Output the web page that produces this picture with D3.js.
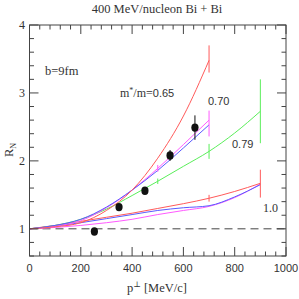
<!DOCTYPE html>
<html lang="en">
<head>
<meta charset="utf-8">
<title>400 MeV/nucleon Bi + Bi</title>
<script src="https://cdn.jsdelivr.net/npm/d3@7"></script>
<style>
	body { margin: 0; background: #fff; }
	.serif { font-family: "Liberation Serif", "DejaVu Serif", serif; }
	.sans { font-family: "Liberation Sans", Arial, sans-serif; }
	.curve { fill: none; stroke-width: 1; }
</style>
</head>
<body>
<div id="chart"></div>
<script>
// transverse momentum grid of the model curves (MeV/c)
var pt700 = [0, 100, 200, 300, 400, 500, 600, 700];
var pt900 = [0, 100, 200, 300, 400, 500, 600, 700, 800, 900];

// R_N model curves, labelled by m*/m
var r065  = [1, 1.03, 1.09, 1.27, 1.57, 2.04, 2.66, 3.48];
var r070b = [1, 1.05, 1.14, 1.32, 1.57, 1.86, 2.19, 2.53];
var r070m = [1, 1.04, 1.12, 1.31, 1.57, 1.89, 2.24, 2.60];
var r079  = [1, 1.05, 1.14, 1.29, 1.49, 1.70, 1.92, 2.14, 2.41, 2.73];
var r100r = [1, 1.05, 1.11, 1.17, 1.23, 1.30, 1.37, 1.45, 1.55, 1.67];
var r100b = [1, 1.04, 1.09, 1.15, 1.21, 1.27, 1.31, 1.34, 1.47, 1.65];
var r100m = [1, 1.02, 1.05, 1.09, 1.14, 1.21, 1.27, 1.33, 1.46, 1.66];

// error bars on the curves
var barSeries = ["r065", "r070m", "r079", "r100r", "r070m", "r079", "r079", "r100r"];
var barPt = [700, 700, 900, 900, 500, 500, 700, 700];
var barLo = [3.30, 2.36, 2.26, 1.46, 1.84, 1.66, 2.03, 1.40];
var barHi = [3.70, 2.74, 3.20, 1.87, 1.94, 1.74, 2.25, 1.50];

// measured points
var dataPt  = [253, 349, 450, 548, 645];
var dataR   = [0.96, 1.32, 1.56, 2.08, 2.49];
var dataErr = [0, 0.03, 0.04, 0.08, 0.18];

var xMajor = [0, 200, 400, 600, 800, 1000];
var yMajor = [1, 2, 3, 4];

var W = 299, H = 299;
var x = d3.scaleLinear().domain([0, 1000]).range([29.5, 286]);
var y = d3.scaleLinear().domain([0.6, 4]).range([256, 25]);

var svg = d3.select("#chart").append("svg")
	.attr("width", W).attr("height", H);

var colors = { r065: "#ff5a5a", r070b: "#5a5aff", r070m: "#ff5aff", r079: "#5aee5a",
	r100r: "#ff5a5a", r100b: "#5a5aff", r100m: "#ff5aff" };
var series = [
	{ key: "r100m", pt: pt900, r: r100m },
	{ key: "r100b", pt: pt900, r: r100b },
	{ key: "r100r", pt: pt900, r: r100r },
	{ key: "r079", pt: pt900, r: r079 },
	{ key: "r070m", pt: pt700, r: r070m },
	{ key: "r070b", pt: pt700, r: r070b },
	{ key: "r065", pt: pt700, r: r065 }
];

// dashed reference line at 1
svg.append("line")
	.attr("x1", x(0)).attr("x2", x(1000))
	.attr("y1", y(1)).attr("y2", y(1))
	.attr("stroke", "#444").attr("stroke-width", 1)
	.attr("stroke-dasharray", "8,5");

var line = d3.line()
	.x(function(d) { return x(d[0]); })
	.y(function(d) { return y(d[1]); })
	.curve(d3.curveMonotoneX);

svg.selectAll(".curve")
	.data(series)
	.enter()
	.append("path")
	.attr("class", "curve")
	.attr("stroke", function(d) { return colors[d.key]; })
	.attr("d", function(d) { return line(d.pt.map(function(p, i) { return [p, d.r[i]]; })); });

svg.selectAll(".cbar")
	.data(barPt)
	.enter()
	.append("line")
	.attr("class", "cbar")
	.attr("x1", function(d) { return x(d); })
	.attr("x2", function(d) { return x(d); })
	.attr("y1", function(d, i) { return y(barLo[i]); })
	.attr("y2", function(d, i) { return y(barHi[i]); })
	.attr("stroke", function(d, i) { return colors[barSeries[i]]; })
	.attr("stroke-width", 1);

// data with error bars
svg.selectAll(".dbar")
	.data(dataPt)
	.enter()
	.append("line")
	.attr("class", "dbar")
	.attr("x1", function(d) { return x(d); })
	.attr("x2", function(d) { return x(d); })
	.attr("y1", function(d, i) { return y(dataR[i] - dataErr[i]); })
	.attr("y2", function(d, i) { return y(dataR[i] + dataErr[i]); })
	.attr("stroke", "#111").attr("stroke-width", 1);

svg.selectAll(".dot")
	.data(dataPt)
	.enter()
	.append("ellipse")
	.attr("class", "dot")
	.attr("cx", function(d) { return x(d); })
	.attr("cy", function(d, i) { return y(dataR[i]); })
	.attr("rx", 3.6).attr("ry", 4.2)
	.attr("fill", "#111");

// frame and ticks (inward on all four sides)
svg.append("rect")
	.attr("x", x(0)).attr("y", y(4))
	.attr("width", x(1000) - x(0)).attr("height", y(0.6) - y(4))
	.attr("fill", "none").attr("stroke", "#444").attr("stroke-width", 1);

var xTicks = d3.range(0, 1001, 40);
var yTicks = d3.range(0.6, 4.001, 0.2);
function isMajorX(v) { return v % 200 === 0; }
function isMajorY(v) { return Math.abs(v - Math.round(v)) < 1e-6; }

var tk = svg.append("g").attr("stroke", "#444").attr("stroke-width", 1);
xTicks.forEach(function(v) {
	var len = isMajorX(v) ? 9 : 4.5;
	tk.append("line").attr("x1", x(v)).attr("x2", x(v)).attr("y1", y(0.6)).attr("y2", y(0.6) - len);
	tk.append("line").attr("x1", x(v)).attr("x2", x(v)).attr("y1", y(4)).attr("y2", y(4) + len);
});
yTicks.forEach(function(v) {
	var len = isMajorY(v) ? 9 : 4.5;
	tk.append("line").attr("x1", x(0)).attr("x2", x(0) + len).attr("y1", y(v)).attr("y2", y(v));
	tk.append("line").attr("x1", x(1000)).attr("x2", x(1000) - len).attr("y1", y(v)).attr("y2", y(v));
});

svg.selectAll(".xlab")
	.data(xMajor)
	.enter()
	.append("text")
	.attr("class", "xlab sans")
	.attr("x", function(d) { return x(d); })
	.attr("y", 272)
	.attr("text-anchor", "middle")
	.attr("font-size", "11px")
	.attr("fill", "#333")
	.text(function(d) { return d; });

svg.selectAll(".ylab")
	.data(yMajor)
	.enter()
	.append("text")
	.attr("class", "ylab serif")
	.attr("x", 25)
	.attr("y", function(d) { return y(d) + 4; })
	.attr("text-anchor", "end")
	.attr("font-size", "12px")
	.attr("fill", "#333")
	.text(function(d) { return d; });

// titles
svg.append("text").attr("class", "serif")
	.attr("x", 157).attr("y", 13).attr("text-anchor", "middle")
	.attr("font-size", "12.5px").attr("fill", "#333")
	.text("400 MeV/nucleon Bi + Bi");

var xt = svg.append("text").attr("class", "serif")
	.attr("x", 157).attr("y", 292).attr("text-anchor", "middle")
	.attr("font-size", "12.5px").attr("fill", "#333");
xt.append("tspan").text("p");
xt.append("tspan").attr("dy", -5).attr("font-size", "8px").text("\u22A5");
xt.append("tspan").attr("dy", 5).text(" [MeV/c]");

var yt = svg.append("text").attr("class", "serif")
	.attr("transform", "translate(13,150) rotate(-90)")
	.attr("text-anchor", "middle")
	.attr("font-size", "12.5px").attr("fill", "#333");
yt.append("tspan").text("R");
yt.append("tspan").attr("dy", 3).attr("font-size", "8px").text("N");

// annotations
svg.append("text").attr("class", "serif")
	.attr("x", 45).attr("y", 75).attr("font-size", "12.5px").attr("fill", "#333")
	.text("b=9fm");

var ml = svg.append("text").attr("class", "serif")
	.attr("x", 120).attr("y", 97).attr("font-size", "12px").attr("fill", "#333");
ml.append("tspan").text("m");
ml.append("tspan").attr("dy", -4).attr("font-size", "8px").text("*");
ml.append("tspan").attr("dy", 4).text("/m=");
ml.append("tspan").attr("class", "sans").attr("font-size", "11px").text("0.65");

svg.append("text").attr("class", "sans")
	.attr("x", 208).attr("y", 105).attr("font-size", "11px").attr("fill", "#333")
	.text("0.70");
svg.append("text").attr("class", "sans")
	.attr("x", 232).attr("y", 148).attr("font-size", "11px").attr("fill", "#333")
	.text("0.79");
svg.append("text").attr("class", "serif")
	.attr("x", 263).attr("y", 212).attr("font-size", "12px").attr("fill", "#333")
	.text("1.0");
</script>
</body>
</html>
